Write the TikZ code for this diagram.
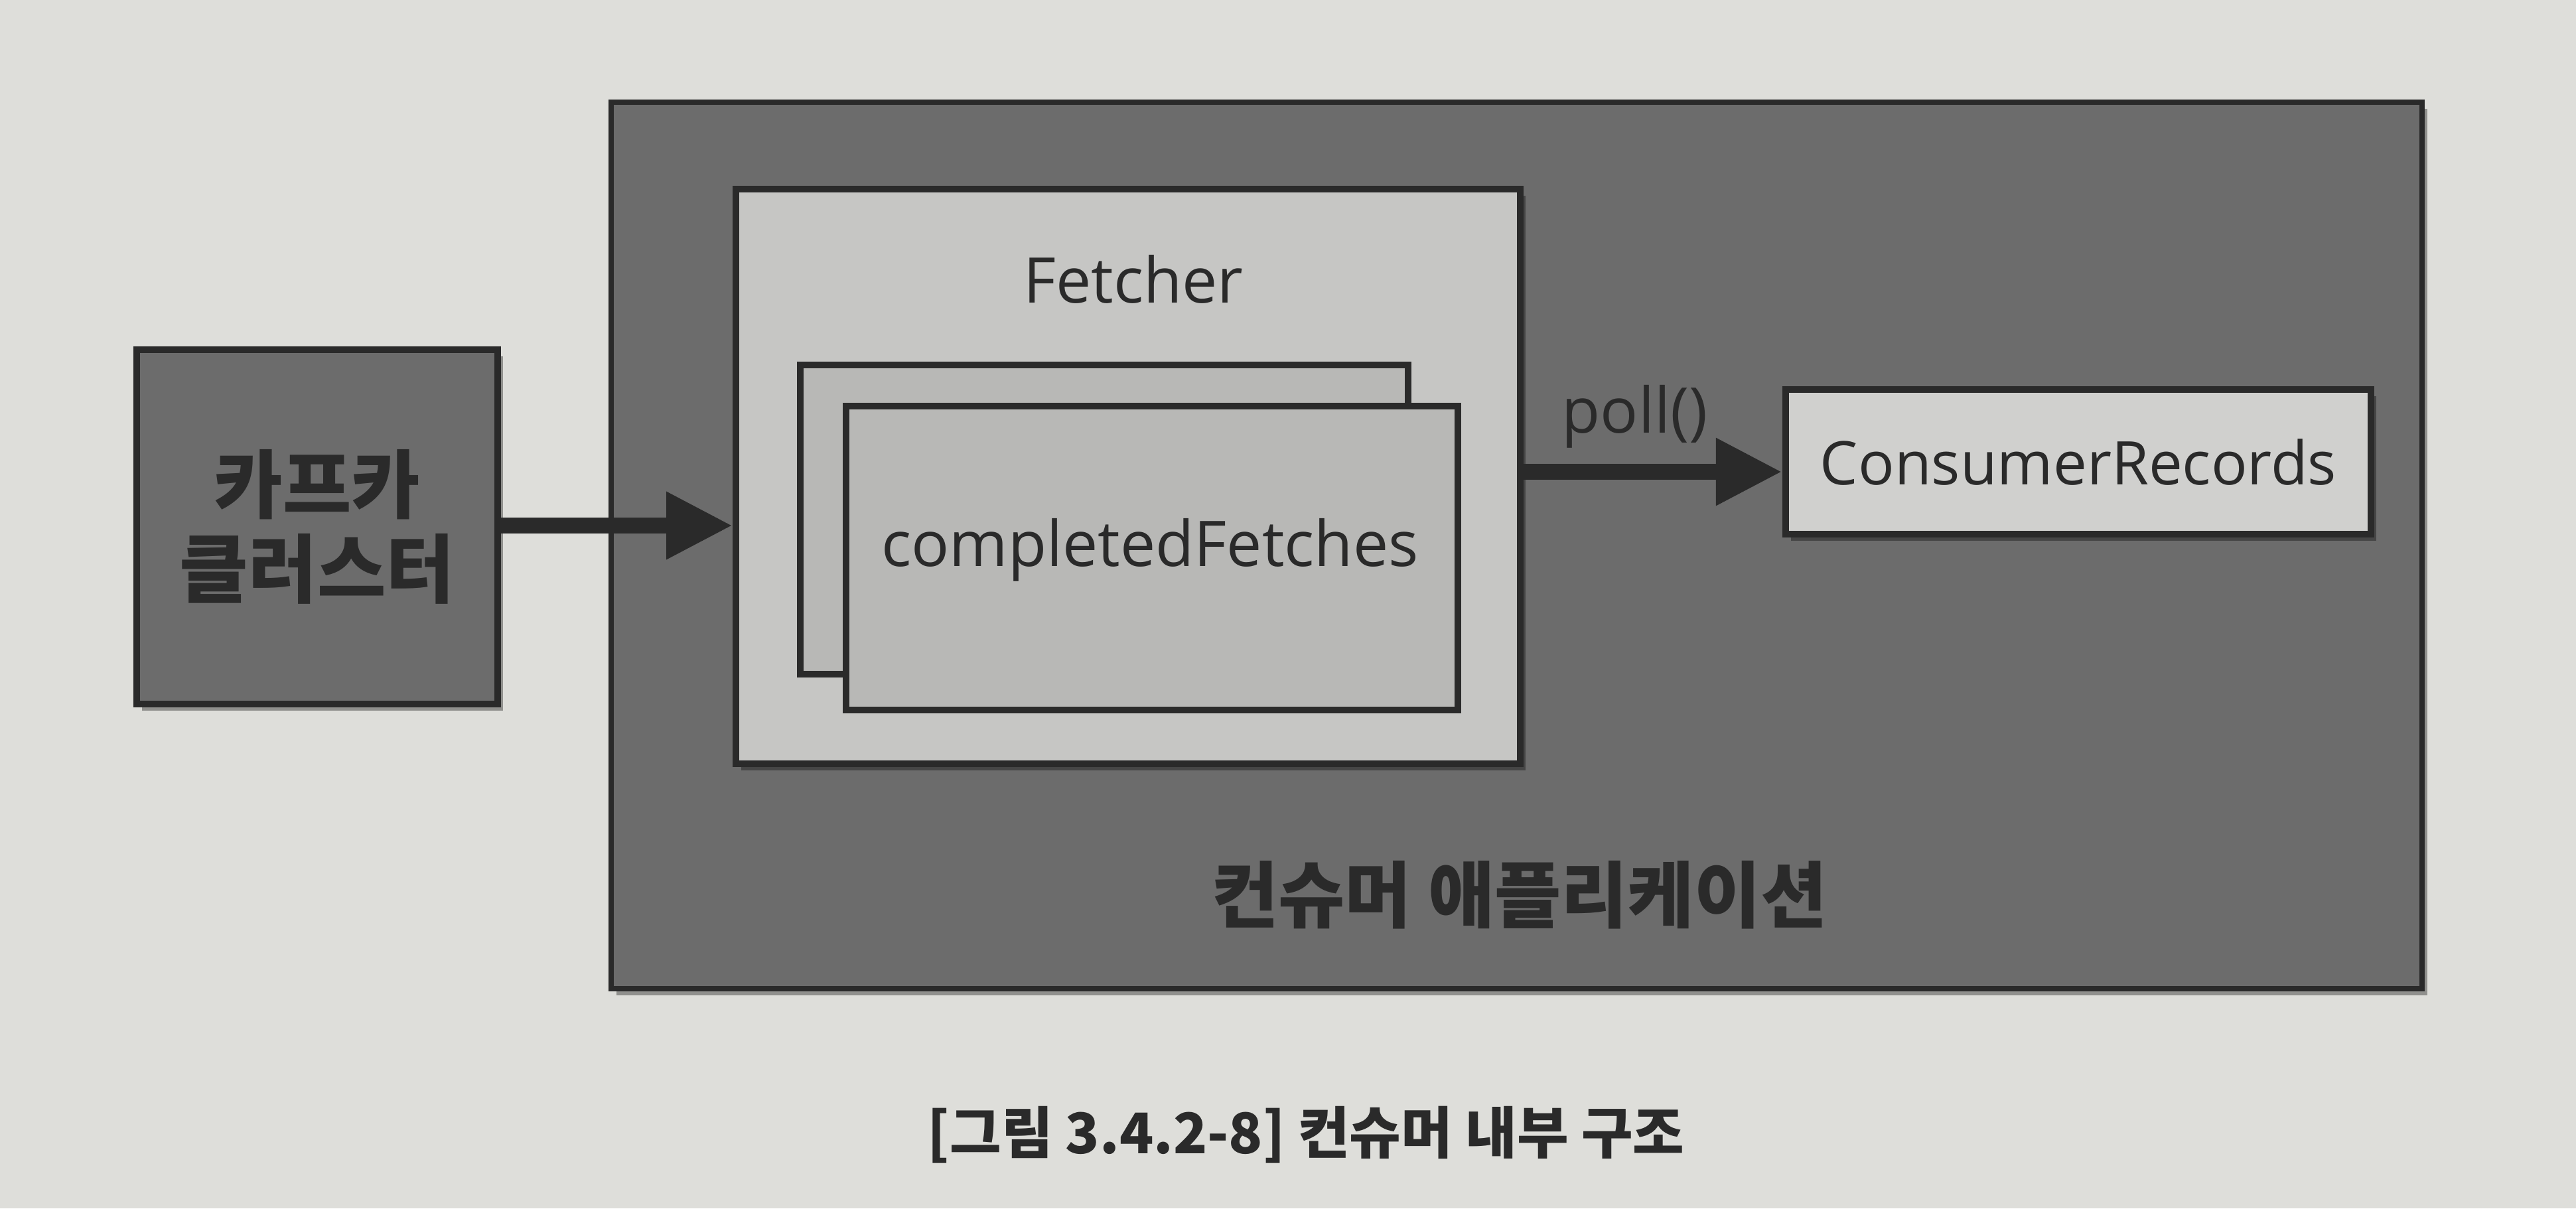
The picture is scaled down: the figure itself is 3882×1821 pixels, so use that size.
\documentclass[tikz,border=0pt]{standalone}
\usepackage{fontspec}
\setmainfont{Open Sans}
\newfontfamily\kr{Noto Sans CJK KR}
\usetikzlibrary{arrows.meta,shadows}
\definecolor{page}{HTML}{DEDEDA}
\definecolor{darkfill}{HTML}{6C6C6C}
\definecolor{lightfill}{HTML}{C6C6C4}
\definecolor{midfill}{HTML}{B8B8B6}
\definecolor{recfill}{HTML}{D0D0CE}
\definecolor{ink}{HTML}{2A2A2A}
\tikzset{
  boxline/.style={draw=ink, line width=2.8pt},
  dshadow/.style={drop shadow={shadow xshift=0.08cm, shadow yshift=-0.1cm, opacity=0.35, fill=black}},
  flowarrow/.style={draw=ink, line width=7pt, -{Triangle[length=1cm,width=0.95cm]}},
  latintext/.style={text=ink, font=\fontsize{27}{32}\selectfont},
  krbold/.style={text=ink, font=\kr\bfseries\fontsize{31}{36}\selectfont, align=center},
}
\begin{document}
\begin{tikzpicture}[x=0.01cm,y=-0.01cm]
\useasboundingbox[fill=page] (0,0) rectangle (3882,1821);
% outer application box
\path[boxline, line width=2.2pt, fill=darkfill, dshadow] (921,154) rectangle (3650,1490);
% kafka cluster
\node[boxline, fill=darkfill, dshadow, minimum width=5.44cm, minimum height=5.33cm, inner sep=0] (kafka) at (478,794) {};
\node[krbold, font=\kr\bfseries\fontsize{32}{36}\selectfont] (kafkatext) at (kafka.center) {카프카\\클러스터};
% fetcher
\node[boxline, fill=lightfill, dshadow, minimum width=11.81cm, minimum height=8.66cm, inner sep=0] (fetcher) at (1700,718) {};
\node[latintext] (fetchertext) at (1708,421) {Fetcher};
\node[boxline, fill=midfill, minimum width=9.16cm, minimum height=4.65cm, inner sep=0] (backbox) at (1664,783) {};
\node[boxline, fill=midfill, minimum width=9.21cm, minimum height=4.58cm, inner sep=0] (frontbox) at (1736,841) {};
\node[latintext] (cftext) at (1733,829) {completedFetches};
% consumer records
\node[boxline, fill=recfill, dshadow, minimum width=8.82cm, minimum height=2.18cm, inner sep=0, latintext, font=\fontsize{25.8}{30}\selectfont] (records) at (3132,696) {ConsumerRecords};
% arrows
\draw[flowarrow] (kafka.east |- 0,792) -- (fetcher.west |- 0,792);
\draw[flowarrow] (fetcher.east |- 0,711) -- node[above=0.12cm, latintext, pos=0.43] (poll) {poll()} (records.west |- 0,711);
% labels
\node[krbold] (apptext) at (2290,1349) {컨슈머 애플리케이션};
\node[text=ink, font=\kr\bfseries\fontsize{24}{28}\selectfont] (caption) at (1968,1710) {[그림 3.4.2-8] 컨슈머 내부 구조};
\end{tikzpicture}
\end{document}
